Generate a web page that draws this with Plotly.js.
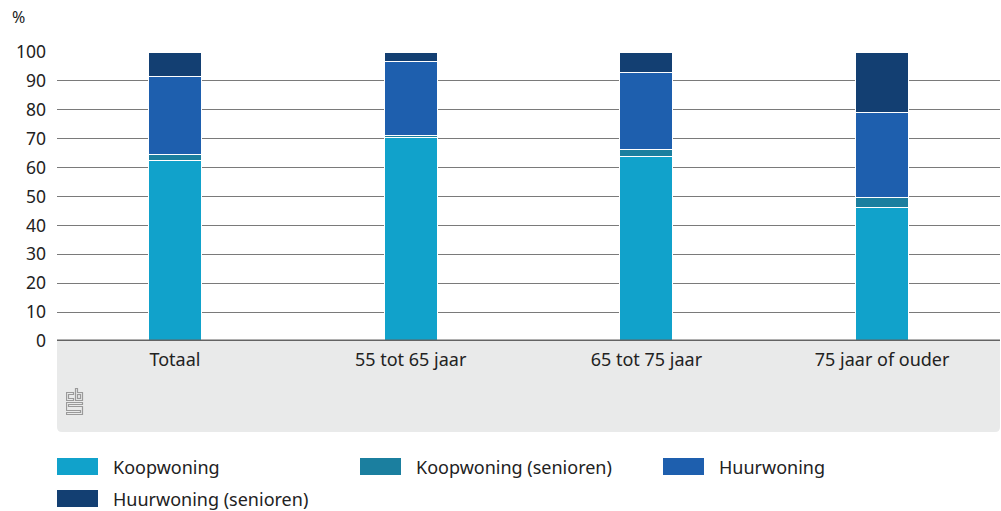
<!DOCTYPE html>
<html>
<head>
<meta charset="utf-8">
<script src="https://cdn.plot.ly/plotly-3.0.1.min.js"></script>
<style>html,body{margin:0;padding:0;background:#fff;}#chart{width:1001px;height:511px;}</style>
</head>
<body>
<div id="chart"></div>
<script>
const categories = ["Totaal", "55 tot 65 jaar", "65 tot 75 jaar", "75 jaar of ouder"];
const koopwoning = [62.4, 70.3, 64.0, 46.1];
const koopwoningSenioren = [2.3, 0.8, 2.4, 3.7];
const huurwoning = [26.8, 25.7, 26.4, 29.3];
const huurwoningSenioren = [8.5, 3.2, 7.2, 20.9];
const yTicks = [0, 10, 20, 30, 40, 50, 60, 70, 80, 90, 100];

const seriesNames = ["Koopwoning", "Koopwoning (senioren)", "Huurwoning", "Huurwoning (senioren)"];
const seriesColors = ["#11a2cb", "#1b7f9f", "#1e5fae", "#133f72"];
const seriesValues = [koopwoning, koopwoningSenioren, huurwoning, huurwoningSenioren];

const FONT = "Noto Sans, Open Sans, sans-serif";
const W = 1001, H = 511, L = 57, R = 1, T = 52, B = 170;
const PW = W - L - R, PH = H - T - B;
const px = x => (x - L) / PW;
const py = y => (H - B - y) / PH;

const traces = seriesValues.map((vals, i) => ({
  type: "bar",
  name: seriesNames[i],
  x: categories,
  y: vals,
  marker: {color: seriesColors[i], line: {color: "#ffffff", width: 1}},
  hoverinfo: "x+y+name"
}));

const shapes = [];
const r = 5, rx = r / PW, ry = r / PH;
const yb = py(432);
shapes.push({
  type: "path", xref: "paper", yref: "paper", layer: "below",
  path: `M 0 0 L 1 0 L 1 ${yb + ry} Q 1 ${yb} ${1 - rx} ${yb} L ${rx} ${yb} Q 0 ${yb} 0 ${yb + ry} Z`,
  fillcolor: "#e9eaea", line: {width: 0}
});
shapes.push({type: "line", xref: "paper", yref: "y", x0: 0, x1: 1, y0: 0, y1: 0,
  line: {color: "#646464", width: 3}, layer: "above"});

const legendPos = [[57, 458], [360, 458], [663, 458], [57, 490]];
const annotations = [];
legendPos.forEach((p, i) => {
  shapes.push({type: "rect", xref: "paper", yref: "paper",
    x0: px(p[0]), x1: px(p[0] + 41), y0: py(p[1]), y1: py(p[1] + 17),
    fillcolor: seriesColors[i], line: {width: 0}});
  annotations.push({xref: "paper", yref: "paper", x: px(p[0] + 54), y: py(p[1] + 8.5),
    xanchor: "left", yanchor: "middle", showarrow: false, text: seriesNames[i],
    font: {family: FONT, size: 18, color: "#222"}});
});
annotations.push({xref: "paper", yref: "paper", x: px(10), y: py(17), xanchor: "left", yanchor: "middle",
  showarrow: false, text: "%", font: {family: FONT, size: 16, color: "#222"}});

const logo = 'data:image/svg+xml;utf8,' + encodeURIComponent(
  '<svg xmlns="http://www.w3.org/2000/svg" width="18" height="28" viewBox="0 0 18 28">' +
  '<g fill="none" stroke="#9a9a9a" stroke-width="1.2">' +
  '<path d="M0.5 4.5 H7.5 V6.5 H2.5 V10.5 H7.5 V12.5 H0.5 Z"/>' +
  '<path d="M9.5 0.5 H11.5 V4.5 H16.5 V12.5 H9.5 Z"/>' +
  '<rect x="11.5" y="6.5" width="3" height="4"/>' +
  '<path d="M0.5 14.5 H16.5 V16.5 H2.5 V18.5 H16.5 V26.5 H0.5 V24.5 H14.5 V22.5 H0.5 Z"/>' +
  '</g></svg>');

const layout = {
  width: W, height: H,
  margin: {l: L, r: R, t: T, b: B, pad: 0},
  paper_bgcolor: "#ffffff", plot_bgcolor: "rgba(0,0,0,0)",
  barmode: "stack", bargap: 0.775,
  showlegend: false,
  font: {family: FONT, size: 16, color: "#222"},
  xaxis: {type: "category", showgrid: false, zeroline: false, showline: false, ticks: "",
    ticklabelstandoff: 6,
    tickfont: {family: FONT, size: 18, color: "#222"}, fixedrange: true},
  yaxis: {range: [0, 100], tickvals: yTicks, ticktext: yTicks.map(String), showgrid: true,
    gridcolor: "#7a7a7a", gridwidth: 1, zeroline: false, showline: false, ticks: "",
    ticklabelstandoff: 10, tickfont: {family: FONT, size: 17.5, color: "#222"}, fixedrange: true},
  shapes: shapes,
  annotations: annotations,
  images: [{source: logo, xref: "paper", yref: "paper", x: px(66), y: py(388),
    sizex: 18 / PW, sizey: 28 / PH, xanchor: "left", yanchor: "top", sizing: "stretch", layer: "above"}]
};

Plotly.newPlot("chart", traces, layout, {displayModeBar: false, staticPlot: true});
</script>
</body>
</html>
